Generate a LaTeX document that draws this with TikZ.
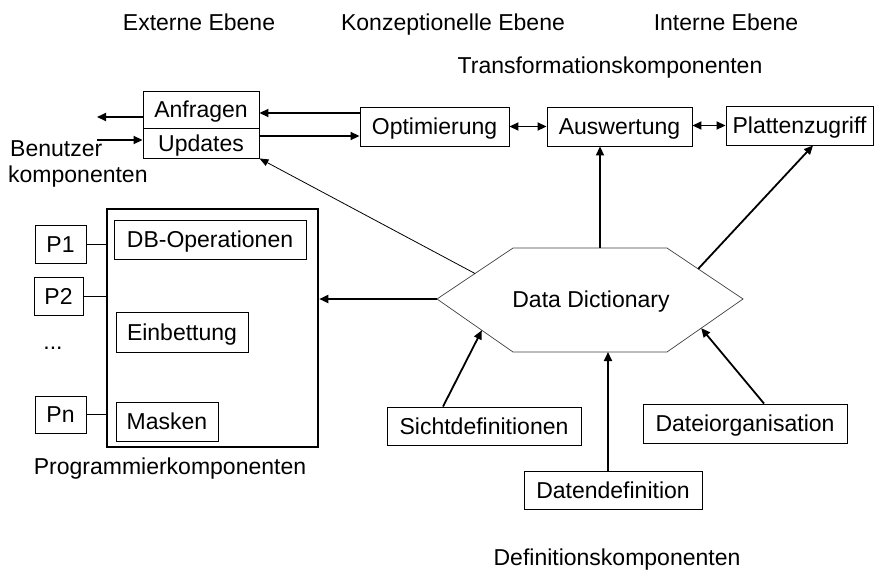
\documentclass[tikz,border=0pt]{standalone}
\usepackage{fontspec}
\setmainfont{Liberation Sans}
\usetikzlibrary{arrows.meta,calc}

\tikzset{
  box/.style={draw, line width=0.9pt, inner sep=0pt, text height=16.5pt, text depth=0pt, align=center},
  lbl/.style={inner sep=0pt, anchor=base},
  conn/.style={line width=1.8pt, -{Triangle[length=9pt,width=8pt]}},
  dconn/.style={line width=1.8pt, {Triangle[length=9pt,width=8pt]}-{Triangle[length=9pt,width=8pt]}},
  plain/.style={line width=0.9pt},
  thinconn/.style={line width=0.8pt, -{Triangle[length=9pt,width=7pt]}},
}

\begin{document}
\begin{tikzpicture}[x=1pt, y=-1pt, font=\fontsize{23}{27}\selectfont]
\useasboundingbox (0,0) rectangle (878,571);

% level titles
\node[lbl] (ext) at (199,30) {Externe Ebene};
\node[lbl] (konz) at (453,30) {Konzeptionelle Ebene};
\node[lbl] (int) at (726,30) {Interne Ebene};
\node[lbl] (trans) at (610,73) {Transformationskomponenten};

% user components
\node[box, minimum width=116pt, minimum height=37pt] (anf) at (201,109.5) {Anfragen};
\node[box, minimum width=116pt, minimum height=30pt] (upd) at (201,143) {Updates};
\node[lbl, anchor=base west] (ben1) at (10,156) {Benutzer};
\node[lbl, anchor=base west] (ben2) at (8,182) {komponenten};
\coordinate (outA) at (97,117);
\coordinate (inU) at (97,140);

% transformation components
\node[box, minimum width=149pt, minimum height=39pt] (opt) at (434.5,126.5) {Optimierung};
\node[box, minimum width=145pt, minimum height=39pt] (aus) at (619.5,126.5) {Auswertung};
\node[box, minimum width=147pt, minimum height=39pt] (pla) at (799.5,125.5) {Plattenzugriff};

% programming components
\node[draw, line width=2.6pt, minimum width=211pt, minimum height=238pt, inner sep=0pt] (prog) at (212.5,328) {};
\node[box, minimum width=192pt, minimum height=39pt] (dbop) at (210,239.5) {DB-Operationen};
\node[box, minimum width=132pt, minimum height=40pt] (einb) at (182,332) {Einbettung};
\node[box, minimum width=102pt, minimum height=39pt] (mask) at (167,421.5) {Masken};
\node[box, minimum width=51pt, minimum height=38pt] (p1) at (60.5,244) {P1};
\node[box, minimum width=49pt, minimum height=38pt] (p2) at (58.5,296) {P2};
\node[box, minimum width=51pt, minimum height=37pt] (pn) at (60.5,414.5) {Pn};
\node[lbl] (dots) at (53,349) {...};
\node[lbl] (progl) at (170,474) {Programmierkomponenten};

% data dictionary (hexagon)
\coordinate (hL) at (437,299);
\coordinate (hTL) at (513,248);
\coordinate (hTR) at (667,248);
\coordinate (hR) at (743,299);
\coordinate (hBR) at (667,352);
\coordinate (hBL) at (513,352);
\draw[line width=0.7pt, draw=black!75] (hL) -- (hTL) -- (hTR) -- (hR) -- (hBR) -- (hBL) -- cycle;
\node[inner sep=0pt, text height=16.5pt, text depth=0pt] (dd) at (591,299) {Data Dictionary};
\coordinate (hUL) at ($(hL)!0.5!(hTL)$);
\coordinate (hUR) at ($(hTR)!0.41!(hR)$);
\coordinate (hLL) at ($(hL)!0.59!(hBL)$);
\coordinate (hLR) at ($(hR)!0.55!(hBR)$);
\coordinate (hT) at (600,248);
\coordinate (hB) at (608,352);
\coordinate (plaIn) at (813,146);
\coordinate (sichtOut) at (443,407);
\coordinate (dorgOut) at (764,404);

% definition components
\node[box, minimum width=194pt, minimum height=38pt] (sicht) at (484,426) {Sichtdefinitionen};
\node[box, minimum width=178pt, minimum height=38pt] (datdef) at (613,490) {Datendefinition};
\node[box, minimum width=204pt, minimum height=39pt] (dorg) at (745,423.5) {Dateiorganisation};
\node[lbl] (defl) at (617,565) {Definitionskomponenten};

% connectors: user side
\draw[conn] (anf.west |- outA) -- (outA);
\draw[conn] (inU) -- (upd.west |- inU);
\coordinate (optA) at (360,113);
\coordinate (optU) at (360,136);
\draw[conn] (opt.west |- optA) -- (anf.east |- optA);
\draw[conn] (upd.east |- optU) -- (opt.west |- optU);

% connectors: transformation chain
\draw[dconn] (opt.east) -- (aus.west);
\draw[dconn] (aus.east |- pla.west) -- (pla.west);

% connectors: program lines
\draw[plain] (p1.east) -- (prog.west |- p1.east);
\draw[plain] (p2.east) -- (prog.west |- p2.east);
\draw[plain] (pn.east) -- (prog.west |- pn.east);

% connectors: data dictionary
\draw[conn] (hL) -- (prog.east |- hL);
\draw[thinconn] (hUL) -- (upd.south east);
\draw[conn] (hT) -- (hT |- aus.south);
\draw[conn] (hUR) -- (pla.south -| plaIn);
\draw[conn] (sicht.north -| sichtOut) -- (hLL);
\draw[conn] (hB |- datdef.north) -- (hB);
\draw[conn] (dorg.north -| dorgOut) -- (hLR);
\end{tikzpicture}
\end{document}
